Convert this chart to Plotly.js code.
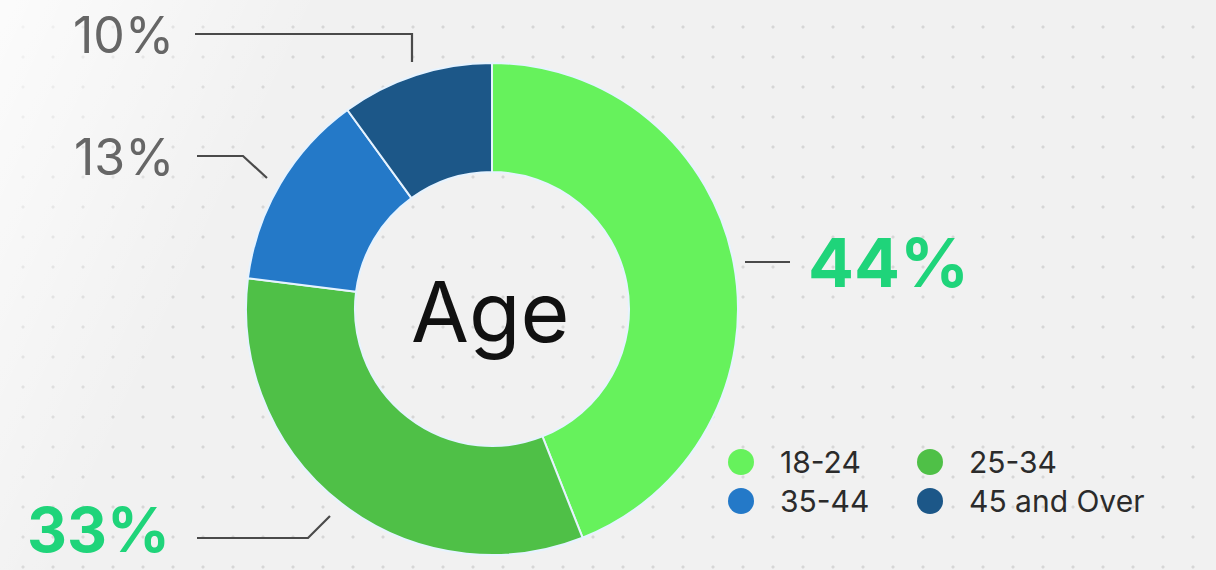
<!DOCTYPE html>
<html>
<head>
<meta charset="utf-8">
<script src="https://cdn.plot.ly/plotly-3.0.1.min.js"></script>
<style>
  html, body { margin:0; padding:0; }
  body {
    width:1216px; height:570px; overflow:hidden;
    background-color:#f1f1f1;
    background-image:
      linear-gradient(115deg, rgba(255,255,255,0.75) 0%, rgba(255,255,255,0.0) 22%),
      radial-gradient(circle, #d6d6d6 1.3px, rgba(0,0,0,0) 1.8px);
    background-size: 100% 100%, 30px 30px;
    background-position: 0 0, 8px 12px;
  }
  #chart { width:1216px; height:570px; }
</style>
</head>
<body>
<div id="chart"></div>
<script>
// ---- data ----
const categories = ['18-24', '25-34', '35-44', '45 and Over'];
const shares = [44, 33, 13, 10];
const sliceColors = ['#66F25C', '#4FC047', '#2479C8', '#1C5788'];
const centerLabel = 'Age';

// ---- layout helpers (positions / styles) ----
const W = 1216, H = 570;
const px = x => x / W;
const py = y => 1 - y / H;
const FONT = 'Inter, "Noto Sans", sans-serif';

const cx = 492, cy = 309, R = 246;

// label placement per slice (pixel positions of text and leader lines)
const labelPlacement = [
  { tx: 806, ty: 262, anchor: 'left',  color: '#1FD47A', size: 68, weight: 700, line: [[745,262],[790,262]] },
  { tx: 172, ty: 529, anchor: 'right', color: '#1FD47A', size: 62, weight: 700, line: [[197,538],[308,538],[330,516]] },
  { tx: 176, ty: 157, anchor: 'right', color: '#666666', size: 50, weight: 400, line: [[197,156],[243,156],[267,178]] },
  { tx: 176, ty: 35,  anchor: 'right', color: '#666666', size: 50, weight: 400, line: [[195,34],[412,34],[412,62]] }
];

const annotations = [];
const shapes = [];

shares.forEach((v, i) => {
  const p = labelPlacement[i];
  annotations.push({
    xref: 'paper', yref: 'paper', x: px(p.tx), y: py(p.ty),
    xanchor: p.anchor, yanchor: 'middle', showarrow: false,
    text: p.weight === 700 ? '<b>' + v + '%</b>' : v + '%',
    font: { family: FONT, size: p.size, color: p.color }
  });
  const path = p.line.map((pt, k) => (k === 0 ? 'M' : 'L') + px(pt[0]) + ',' + py(pt[1])).join(' ');
  shapes.push({
    type: 'path', xref: 'paper', yref: 'paper', path: path,
    line: { color: '#4a4a4a', width: 2.2 }
  });
});

// center label
annotations.push({
  xref: 'paper', yref: 'paper', x: px(cx - 2), y: py(cy + 2),
  xanchor: 'center', yanchor: 'middle', showarrow: false,
  text: centerLabel, font: { family: FONT, size: 84, color: '#111111' }
});

// custom legend (circles + text), 2 columns
const legendPos = [[741, 462], [930, 462], [741, 501], [930, 501]];
categories.forEach((c, i) => {
  const [lx, ly] = legendPos[i];
  const r = 13;
  shapes.push({
    type: 'circle', xref: 'paper', yref: 'paper',
    x0: px(lx - r), x1: px(lx + r), y0: py(ly + r), y1: py(ly - r),
    fillcolor: sliceColors[i], line: { width: 0 }
  });
  annotations.push({
    xref: 'paper', yref: 'paper', x: px(lx + 37), y: py(ly),
    xanchor: 'left', yanchor: 'middle', showarrow: false,
    text: c, font: { family: FONT, size: 30, color: '#2b2b2b' }
  });
});

const trace = {
  type: 'pie',
  labels: categories,
  values: shares,
  sort: false,
  direction: 'clockwise',
  rotation: 0,
  hole: 0.557,
  textinfo: 'none',
  hoverinfo: 'label+percent',
  marker: { colors: sliceColors, line: { color: '#e6f3ff', width: 2 } },
  domain: { x: [px(cx - R), px(cx + R)], y: [py(cy + R), py(cy - R)] },
  showlegend: false
};

const layout = {
  width: W, height: H,
  margin: { l: 0, r: 0, t: 0, b: 0 },
  paper_bgcolor: 'rgba(0,0,0,0)',
  plot_bgcolor: 'rgba(0,0,0,0)',
  showlegend: false,
  annotations: annotations,
  shapes: shapes
};

Plotly.newPlot('chart', [trace], layout, { displayModeBar: false, staticPlot: true });
</script>
</body>
</html>
